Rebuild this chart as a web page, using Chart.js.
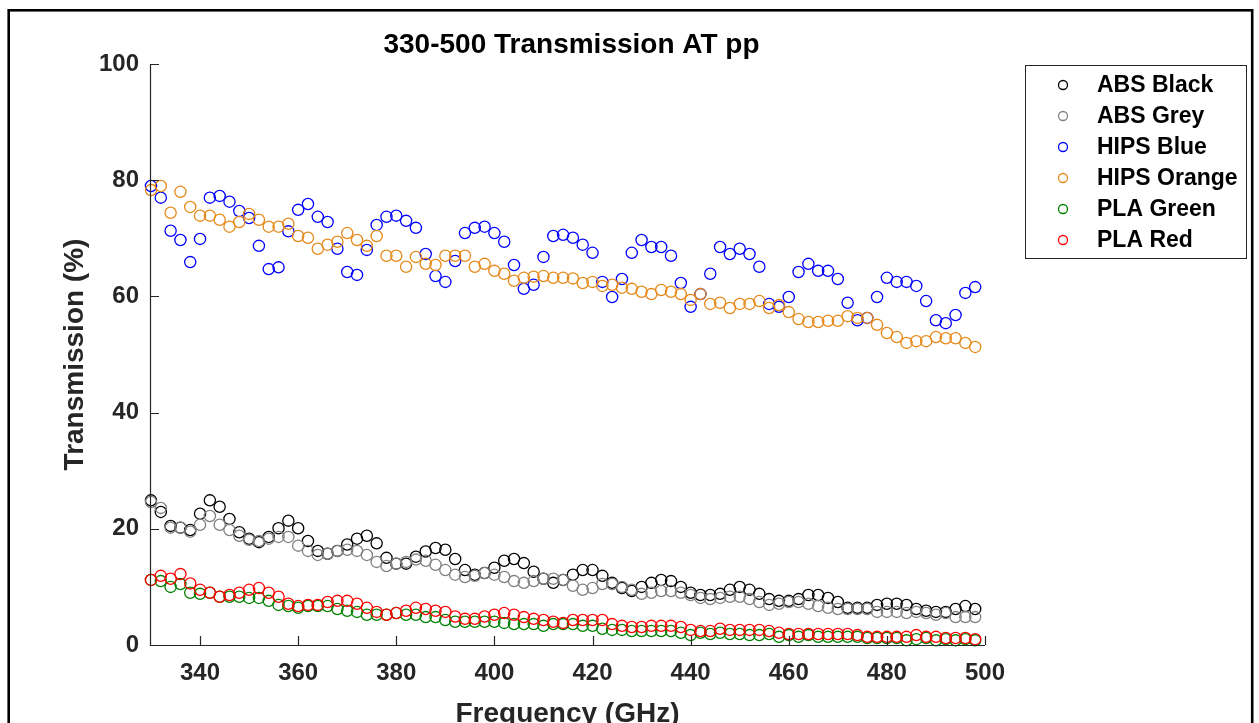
<!DOCTYPE html>
<html>
<head>
<meta charset="utf-8">
<title>330-500 Transmission AT pp</title>
<script src="https://cdn.jsdelivr.net/npm/chart.js@4.4.1/dist/chart.umd.min.js"></script>
<style>
  html, body { margin: 0; padding: 0; background: #ffffff; }
  #wrap { width: 1259px; height: 723px; position: relative; }
</style>
</head>
<body>
<div id="wrap"><canvas id="grafico" width="1259" height="723"></canvas></div>
<script>
// frequencias (GHz)
const freq = [330, 332, 334, 336, 338, 340, 342, 344, 346, 348,
  350, 352, 354, 356, 358, 360, 362, 364, 366, 368,
  370, 372, 374, 376, 378, 380, 382, 384, 386, 388,
  390, 392, 394, 396, 398, 400, 402, 404, 406, 408,
  410, 412, 414, 416, 418, 420, 422, 424, 426, 428,
  430, 432, 434, 436, 438, 440, 442, 444, 446, 448,
  450, 452, 454, 456, 458, 460, 462, 464, 466, 468,
  470, 472, 474, 476, 478, 480, 482, 484, 486, 488,
  490, 492, 494, 496, 498];

// transmissao (%) por material
const absBlack = [24.9, 22.9, 20.5, 20.2, 19.8, 22.6, 24.9, 23.8, 21.7, 19.4,
  18.3, 17.7, 18.6, 20.1, 21.4, 20.1, 17.9, 16.2, 15.7, 16.2,
  17.3, 18.3, 18.8, 17.5, 15.0, 14.0, 14.0, 15.2, 16.1, 16.7,
  16.4, 14.8, 12.9, 12.1, 12.4, 13.3, 14.5, 14.8, 14.1, 12.6,
  11.4, 10.7, 11.2, 12.1, 12.9, 12.9, 11.9, 10.7, 9.8, 9.3,
  10.0, 10.7, 11.2, 11.0, 10.0, 9.0, 8.6, 8.6, 8.8, 9.5,
  10.0, 9.5, 8.8, 7.9, 7.6, 7.6, 7.9, 8.6, 8.6, 8.1,
  7.4, 6.4, 6.4, 6.4, 6.9, 7.1, 7.1, 6.9, 6.2, 5.9,
  5.7, 5.7, 6.2, 6.7, 6.2];

const absGrey = [24.6, 23.6, 20.2, 20.2, 19.5, 20.7, 22.2, 20.7, 19.8, 18.8,
  18.1, 17.9, 18.3, 18.6, 18.6, 17.1, 16.2, 15.5, 15.7, 16.2,
  16.4, 16.2, 15.5, 14.3, 13.6, 14.0, 14.3, 14.7, 14.5, 13.8,
  12.9, 12.1, 11.7, 11.9, 12.4, 12.1, 11.7, 11.0, 10.7, 11.0,
  11.4, 11.4, 11.2, 10.2, 9.5, 9.8, 10.5, 10.5, 10.0, 9.5,
  8.8, 9.0, 9.3, 9.3, 9.0, 8.6, 8.1, 7.9, 8.1, 8.3,
  8.3, 7.9, 7.4, 6.9, 7.1, 7.4, 7.4, 7.1, 6.7, 6.4,
  6.2, 6.2, 6.2, 6.2, 5.7, 5.7, 5.7, 5.5, 5.7, 5.5,
  5.2, 5.5, 4.8, 4.8, 4.8];

const hipsBlue = [79.0, 77.0, 71.3, 69.7, 65.9, 69.9, 77.0, 77.3, 76.3, 74.7,
  73.5, 68.7, 64.7, 65.0, 71.2, 74.9, 75.9, 73.7, 72.8, 68.2,
  64.2, 63.7, 68.0, 72.3, 73.7, 73.9, 73.0, 71.8, 67.3, 63.5,
  62.5, 66.1, 70.9, 71.8, 72.0, 70.9, 69.4, 65.4, 61.3, 62.0,
  66.8, 70.4, 70.6, 70.1, 68.9, 67.5, 62.5, 59.9, 63.0, 67.5,
  69.7, 68.5, 68.5, 67.0, 62.3, 58.2, 60.4, 63.9, 68.5, 67.3,
  68.2, 67.3, 65.1, 58.7, 58.2, 59.9, 64.2, 65.6, 64.4, 64.4,
  63.0, 58.9, 55.9, 56.3, 59.9, 63.2, 62.5, 62.5, 61.8, 59.2,
  55.9, 55.4, 56.8, 60.6, 61.6];

const hipsOrange = [78.3, 79.0, 74.4, 78.0, 75.4, 73.9, 73.9, 73.2, 72.0, 72.8,
  74.2, 73.2, 72.0, 72.0, 72.5, 70.4, 70.1, 68.2, 68.9, 69.4,
  70.9, 69.7, 68.7, 70.4, 67.0, 67.0, 65.1, 66.8, 65.6, 65.4,
  67.0, 67.0, 67.0, 65.1, 65.6, 64.4, 63.9, 62.7, 63.2, 63.4,
  63.5, 63.2, 63.2, 63.1, 62.3, 62.5, 61.8, 62.0, 61.5, 61.3,
  60.8, 60.4, 61.1, 60.8, 60.4, 59.4, 60.4, 58.7, 58.9, 58.0,
  58.7, 58.7, 59.2, 58.0, 58.5, 57.3, 56.1, 55.6, 55.6, 55.8,
  55.8, 56.6, 56.3, 56.3, 55.1, 53.7, 53.0, 52.0, 52.3, 52.3,
  53.0, 52.8, 52.8, 52.0, 51.3];

const plaGreen = [11.2, 11.0, 10.0, 10.5, 9.0, 8.8, 9.0, 8.3, 8.3, 8.3,
  8.1, 8.1, 7.6, 6.9, 6.7, 6.4, 6.7, 6.7, 6.7, 6.2,
  5.9, 5.7, 5.2, 5.2, 5.2, 5.5, 5.2, 5.2, 4.8, 4.8,
  4.3, 4.0, 4.0, 4.0, 4.0, 4.0, 3.8, 3.6, 3.6, 3.6,
  3.3, 3.6, 3.6, 3.6, 3.3, 3.3, 2.8, 2.6, 2.6, 2.4,
  2.4, 2.4, 2.4, 2.4, 2.1, 1.7, 2.1, 1.9, 2.1, 1.9,
  1.9, 1.7, 1.7, 1.9, 1.4, 1.7, 1.4, 1.7, 1.4, 1.4,
  1.4, 1.4, 1.4, 1.2, 1.2, 1.2, 1.2, 0.8, 1.0, 1.2,
  0.8, 1.0, 0.8, 1.0, 0.8];

const plaRed = [11.2, 11.9, 11.4, 12.2, 10.6, 9.5, 9.0, 8.3, 8.6, 9.0,
  9.5, 9.8, 9.0, 8.3, 7.1, 6.7, 6.9, 6.9, 7.4, 7.6,
  7.6, 7.1, 6.4, 5.7, 5.2, 5.5, 5.9, 6.4, 6.2, 5.9,
  5.7, 4.9, 4.5, 4.5, 4.9, 5.2, 5.5, 5.2, 4.8, 4.5,
  4.3, 4.0, 3.8, 4.3, 4.3, 4.3, 4.3, 3.6, 3.3, 3.1,
  3.1, 3.3, 3.3, 3.3, 3.1, 2.6, 2.4, 2.4, 2.8, 2.6,
  2.6, 2.6, 2.6, 2.4, 2.1, 1.9, 1.9, 1.9, 1.9, 1.9,
  1.9, 1.9, 1.7, 1.4, 1.4, 1.4, 1.4, 1.4, 1.7, 1.4,
  1.4, 1.2, 1.2, 1.2, 1.0];

const nomes = ["ABS Black", "ABS Grey", "HIPS Blue", "HIPS Orange", "PLA Green", "PLA Red"];
const series = [absBlack, absGrey, hipsBlue, hipsOrange, plaGreen, plaRed];
const cores = ["#000000", "#808080", "#0000ff", "#e6891a", "#008000", "#ff0000"];

const xTicks = [340, 360, 380, 400, 420, 440, 460, 480, 500];
const yTicks = [0, 20, 40, 60, 80, 100];

const FONTE = "'Liberation Sans', Arial, sans-serif";
const CINZA = "#262626";

const datasets = series.map((vals, i) => ({
    label: nomes[i],
    data: vals.map((v, k) => ({ x: freq[k], y: v })),
    showLine: false,
    borderColor: cores[i],
    backgroundColor: "rgba(0,0,0,0)",
    pointBorderColor: cores[i],
    pointBackgroundColor: "rgba(0,0,0,0)",
    pointRadius: 5.6,
    pointHoverRadius: 5.6,
    pointBorderWidth: 1.3,
    clip: false,
    order: series.length - i   // ultima serie por cima
}));

// -------------------- moldura, eixos, titulo e legenda --------------------
const extras = {
    id: "extras",
    beforeDraw(chart) {
        const ctx = chart.ctx;
        ctx.save();
        ctx.fillStyle = "#ffffff";
        ctx.fillRect(0, 0, chart.width, chart.height);
        ctx.restore();
    },
    afterDraw(chart) {
        const ctx = chart.ctx;
        const area = chart.chartArea;
        const xs = chart.scales.x;
        const ys = chart.scales.y;
        ctx.save();

        // moldura externa
        ctx.strokeStyle = "#000000";
        ctx.lineWidth = 2.6;
        ctx.strokeRect(8.7, 10.3, 1243.5, 760);

        // eixos
        ctx.strokeStyle = CINZA;
        ctx.lineWidth = 1.2;
        ctx.beginPath();
        ctx.moveTo(area.left + 0.5, area.top);
        ctx.lineTo(area.left + 0.5, area.bottom + 0.5);
        ctx.lineTo(area.right, area.bottom + 0.5);
        ctx.stroke();

        // ticks para dentro
        ctx.beginPath();
        yTicks.forEach(v => {
            const py = Math.round(ys.getPixelForValue(v)) + 0.5;
            ctx.moveTo(area.left, py);
            ctx.lineTo(area.left + 9, py);
        });
        xTicks.forEach(v => {
            const px = Math.round(xs.getPixelForValue(v)) + 0.5;
            ctx.moveTo(px, area.bottom);
            ctx.lineTo(px, area.bottom - 9);
        });
        ctx.stroke();

        // titulo
        ctx.fillStyle = "#000000";
        ctx.font = "bold 28px " + FONTE;
        ctx.textAlign = "center";
        ctx.textBaseline = "alphabetic";
        ctx.fillText("330-500 Transmission AT pp", (area.left + area.right) / 2 + 4, 53);

        // rotulos dos eixos
        ctx.fillStyle = CINZA;
        ctx.font = "bold 28px " + FONTE;
        ctx.fillText("Frequency (GHz)", (area.left + area.right) / 2, 722);
        ctx.save();
        ctx.translate(83, (area.top + area.bottom) / 2);
        ctx.rotate(-Math.PI / 2);
        ctx.fillText("Transmission (%)", 0, 0);
        ctx.restore();

        // legenda
        const lx = 1025.5, ly = 65.5, lw = 221, lh = 193;
        ctx.fillStyle = "#ffffff";
        ctx.fillRect(lx, ly, lw, lh);
        ctx.strokeStyle = CINZA;
        ctx.lineWidth = 1;
        ctx.strokeRect(lx, ly, lw, lh);
        ctx.font = "bold 23px " + FONTE;
        ctx.textAlign = "left";
        ctx.textBaseline = "middle";
        chart.data.datasets.forEach((ds, i) => {
            const cy = 85 + i * 31;
            ctx.strokeStyle = ds.borderColor;
            ctx.lineWidth = 1.3;
            ctx.beginPath();
            ctx.arc(1063, cy, 4.5, 0, Math.PI * 2);
            ctx.stroke();
            ctx.fillStyle = "#000000";
            ctx.fillText(ds.label, 1097, cy + 1);
        });

        ctx.restore();
    }
};

new Chart(document.getElementById("grafico").getContext("2d"), {
    type: "scatter",
    data: { datasets: datasets },
    options: {
        responsive: false,
        animation: false,
        events: [],
        layout: { padding: { left: 0, top: 64, right: 274, bottom: 0 } },
        plugins: {
            legend: { display: false },
            title: { display: false },
            tooltip: { enabled: false }
        },
        scales: {
            x: {
                type: "linear",
                position: "bottom",
                min: 329.8,
                max: 500,
                afterFit: s => { s.height = 78; },
                afterBuildTicks: s => { s.ticks = xTicks.map(v => ({ value: v })); },
                grid: { display: false, drawTicks: false },
                border: { display: false },
                ticks: {
                    color: CINZA,
                    padding: 14,
                    maxRotation: 0,
                    font: { family: FONTE, weight: "bold", size: 24 }
                }
            },
            y: {
                type: "linear",
                min: 0,
                max: 100,
                afterFit: s => { s.width = 150; },
                afterBuildTicks: s => { s.ticks = yTicks.map(v => ({ value: v })); },
                grid: { display: false, drawTicks: false },
                border: { display: false },
                ticks: {
                    color: CINZA,
                    padding: 11,
                    font: { family: FONTE, weight: "bold", size: 24 }
                }
            }
        }
    },
    plugins: [extras]
});
</script>
</body>
</html>
